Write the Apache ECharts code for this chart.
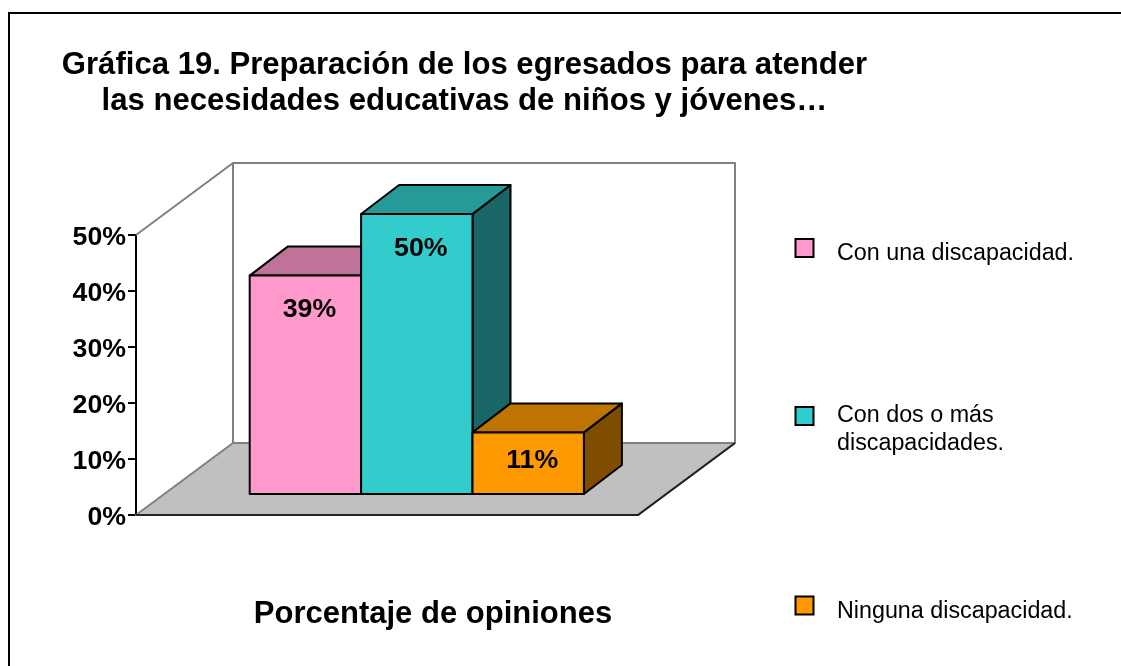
<!DOCTYPE html>
<html>
<head>
<meta charset="utf-8">
<style>html,body{margin:0;padding:0;background:#fff}#c{width:1121px;height:666px}</style>
<script src="https://cdn.jsdelivr.net/npm/echarts@6/dist/echarts.min.js"></script>
</head>
<body>
<div id="c"></div>
<script>
const titleText = 'Gráfica 19. Preparación de los egresados para atender\nlas necesidades educativas de niños y jóvenes…';
const xCategories = ['Porcentaje de opiniones'];
const seriesNames = ['Con una discapacidad.', 'Con dos o más discapacidades.', 'Ninguna discapacidad.'];
const legendLabels = ['{a|Con una discapacidad.}', ' \nCon dos o más\ndiscapacidades.', '{a|Ninguna discapacidad.}'];
const seriesValues = [39, 50, 11];
const faceColors = ['#FF99CC', '#33CCCC', '#FF9900'];
const topColors = ['#BF7399', '#269999', '#BF7300'];
const sideColors = ['#804D66', '#1A6666', '#804D00'];
const labelDrops = [34, 35, 28];
const legendTops = [230.5, 374, 588];
const FONT = '"Liberation Sans", Arial, sans-serif';

const BOX_DX = 97, BOX_DY = -72, BAR_OFF_DX = 29.8, BAR_OFF_DY = -21, BAR_DX = 38, BAR_DY = -29;
const BAR_W = 111.4;

function poly(points, fill, stroke, w) {
  return {type: 'polygon', shape: {points}, style: {fill, stroke, lineWidth: w, lineJoin: 'round'}};
}
function renderBox(params, api) {
  const bl = api.coord([0, 0]);
  const tl = api.coord([0, 50]);
  const half = api.size([1, 0])[0] / 2;
  const x0 = bl[0] - half, x1 = bl[0] + half, y0 = bl[1], y1 = tl[1];
  return {type: 'group', children: [
    poly([[x0 + BOX_DX, y1 + BOX_DY], [x1 + BOX_DX, y1 + BOX_DY], [x1 + BOX_DX, y0 + BOX_DY], [x0 + BOX_DX, y0 + BOX_DY]], '#fff', '#808080', 2),
    {type: 'polyline', shape: {points: [[x0, y1], [x0 + BOX_DX, y1 + BOX_DY]]}, style: {fill: 'none', stroke: '#808080', lineWidth: 2}},
    poly([[x0, y0], [x1, y0], [x1 + BOX_DX, y0 + BOX_DY], [x0 + BOX_DX, y0 + BOX_DY]], '#C0C0C0', '#808080', 2),
    {type: 'polyline', shape: {points: [[x0, y0], [x1, y0], [x1 + BOX_DX, y0 + BOX_DY]]}, style: {fill: 'none', stroke: '#222', lineWidth: 2}}
  ]};
}
function renderBar(i) {
  return function (params, api) {
    const top = api.coord([0, api.value(1)]);
    const base = api.coord([0, 0]);
    const l = top[0] + (i - 1.5) * BAR_W + BAR_OFF_DX;
    const r = l + BAR_W;
    const t = top[1] + BAR_OFF_DY;
    const b = base[1] + BAR_OFF_DY;
    return {type: 'group', children: [
      poly([[r, t], [r + BAR_DX, t + BAR_DY], [r + BAR_DX, b + BAR_DY], [r, b]], sideColors[i], '#000', 2),
      poly([[l, t], [l + BAR_DX, t + BAR_DY], [r + BAR_DX, t + BAR_DY], [r, t]], topColors[i], '#000', 2),
      poly([[l, t], [r, t], [r, b], [l, b]], faceColors[i], '#000', 2),
      {type: 'text', style: {
        x: (l + r) / 2 + 4, y: t + labelDrops[i],
        text: api.value(1) + '%', fill: '#000', align: 'center', verticalAlign: 'middle',
        font: 'bold 26.7px ' + FONT
      }}
    ]};
  };
}

const series = [{
  type: 'custom', name: 'caja', silent: true, z: 1, clip: false,
  encode: {x: 0, y: 1}, data: [[0, 0]], renderItem: renderBox
}].concat(seriesNames.map((name, i) => ({
  type: 'custom', name, z: 2 + i, clip: false,
  itemStyle: {color: faceColors[i]},
  encode: {x: 0, y: 1}, data: [[0, seriesValues[i]]], renderItem: renderBar(i)
})));

const legends = seriesNames.map((name, i) => ({
  left: 794.5, top: legendTops[i], orient: 'vertical', padding: 0,
  itemWidth: 18, itemHeight: 18, icon: 'rect', selectedMode: false,
  data: [{name, itemStyle: {color: faceColors[i], borderColor: '#000', borderWidth: 2}}],
  formatter: () => legendLabels[i],
  textStyle: {
    fontFamily: FONT, fontSize: 23.3, color: '#000', lineHeight: 28,
    padding: [0, 0, 0, 18.5],
    rich: {a: {fontFamily: FONT, fontSize: 23.3, color: '#000', lineHeight: 28, padding: [12, 0, 0, 0]}}
  }
}));

const chart = echarts.init(document.getElementById('c'), null, {renderer: 'canvas', width: 1121, height: 666});
chart.setOption({
  animation: false,
  backgroundColor: '#fff',
  title: {
    text: titleText, left: 459.5, top: 42.5, textAlign: 'center',
    textStyle: {fontFamily: FONT, fontWeight: 'bold', fontSize: 31.1, lineHeight: 36, color: '#000'}
  },
  graphic: [{type: 'rect', shape: {x: 9, y: 13, width: 1200, height: 700}, style: {fill: 'none', stroke: '#000', lineWidth: 2}, silent: true}],
  legend: legends,
  grid: {left: 136, top: 235, width: 502, height: 280, containLabel: false},
  xAxis: {
    type: 'category', data: xCategories,
    axisLine: {show: false}, axisTick: {show: false},
    axisLabel: {
      color: '#000', fontFamily: FONT, fontWeight: 'bold', fontSize: 31,
      margin: 84, padding: [0, 0, 0, 92]
    }
  },
  yAxis: {
    type: 'value', min: 0, max: 50, interval: 10,
    splitLine: {show: false},
    axisLine: {show: true, lineStyle: {color: '#000', width: 2}},
    axisTick: {show: true, length: 8, lineStyle: {color: '#000', width: 2}},
    axisLabel: {
      margin: 10,
      formatter: v => '{a|' + v + '%}',
      rich: {a: {color: '#000', fontFamily: FONT, fontWeight: 'bold', fontSize: 26.7, padding: [5, 0, 0, 0]}}
    }
  },
  series
});
</script>
</body>
</html>
